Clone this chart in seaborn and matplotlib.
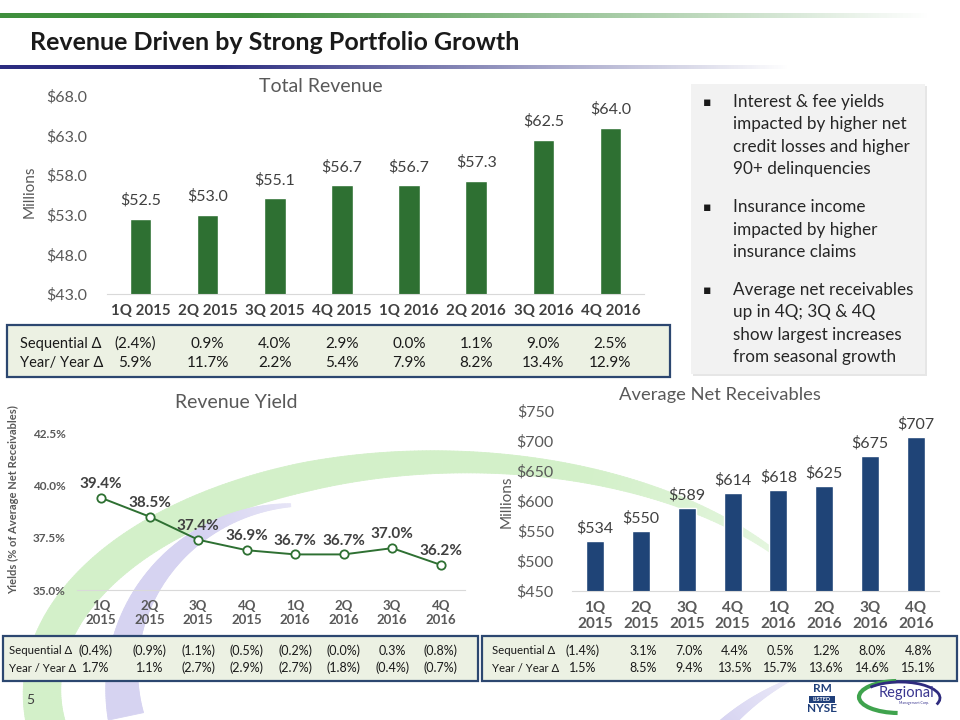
import numpy as np
import seaborn as sns
import matplotlib.pyplot as plt
import matplotlib.transforms as mtransforms
from matplotlib.colors import to_rgb
from matplotlib.patches import Rectangle, Arc
from matplotlib.collections import PolyCollection

quarters = ['1Q 2015', '2Q 2015', '3Q 2015', '4Q 2015', '1Q 2016', '2Q 2016', '3Q 2016', '4Q 2016']
revenue = [52.5, 53.0, 55.1, 56.7, 56.7, 57.3, 62.5, 64.0]
rev_seq = ['(2.4%)', '0.9%', '4.0%', '2.9%', '0.0%', '1.1%', '9.0%', '2.5%']
rev_yoy = ['5.9%', '11.7%', '2.2%', '5.4%', '7.9%', '8.2%', '13.4%', '12.9%']
yields = [39.4, 38.5, 37.4, 36.9, 36.7, 36.7, 37.0, 36.2]
yield_seq = ['(0.4%)', '(0.9%)', '(1.1%)', '(0.5%)', '(0.2%)', '(0.0%)', '0.3%', '(0.8%)']
yield_yoy = ['1.7%', '1.1%', '(2.7%)', '(2.9%)', '(2.7%)', '(1.8%)', '(0.4%)', '(0.7%)']
receivables = [534, 550, 589, 614, 618, 625, 675, 707]
rec_seq = ['(1.4%)', '3.1%', '7.0%', '4.4%', '0.5%', '1.2%', '8.0%', '4.8%']
rec_yoy = ['1.5%', '8.5%', '9.4%', '13.5%', '15.7%', '13.6%', '14.6%', '15.1%']
bullets = [
    ['Interest & fee yields', 'impacted by higher net', 'credit losses and higher', '90+ delinquencies'],
    ['Insurance income', 'impacted by higher', 'insurance claims'],
    ['Average net receivables', 'up in 4Q; 3Q & 4Q', 'show largest increases', 'from seasonal growth'],
]

GREEN = '#2e7032'
NAVY = '#1f4477'
GREY = '#595959'
DARK = '#404040'
INK = '#1a1a1a'

sns.set_style('white')
plt.rcParams['font.family'] = ['Lato', 'DejaVu Sans']

W, H = 960, 720
fig = plt.figure(figsize=(9.6, 7.2), dpi=100)


def rect(l, t, r, b):
    return [l / W, 1 - b / H, (r - l) / W, (b - t) / H]


def ftext(x, y, s, **kw):
    fig.text(x / W, 1 - y / H, s, **kw)


# background layer in pixel coordinates
bg = fig.add_axes([0, 0, 1, 1], zorder=0)
bg.axis('off')


def fade_bar(y0, y1, color, end, start):
    xs = np.linspace(0, W, 600)
    alpha = np.clip((end - xs) / (end - start), 0, 1)
    rgba = np.zeros((1, len(xs), 4))
    rgba[..., :3] = to_rgb(color)
    rgba[..., 3] = alpha
    bg.imshow(rgba, extent=(0, W, y1, y0), aspect='auto', interpolation='bilinear')


fade_bar(13, 18, '#3f8f3d', 930, 250)
fade_bar(65, 69, '#2b2c80', 790, 220)
bg.set_xlim(0, W)
bg.set_ylim(H, 0)


def band(x, y, widths, color, fade):
    # tapered ribbon along a curve, opaque colours blended into white
    dx, dy = np.gradient(x), np.gradient(y)
    n = np.hypot(dx, dy)
    nx, ny = -dy / n, dx / n
    lx, ly = x + nx * widths / 2, y + ny * widths / 2
    rx, ry = x - nx * widths / 2, y - ny * widths / 2
    rgb = np.array(to_rgb(color))
    polys, cols = [], []
    for i in range(len(x) - 1):
        polys.append([(lx[i], ly[i]), (lx[i + 1], ly[i + 1]), (rx[i + 1], ry[i + 1]), (rx[i], ry[i])])
        a = fade[i]
        cols.append(tuple(1 - a * (1 - rgb)))
    bg.add_collection(PolyCollection(polys, facecolors=cols, edgecolors=cols, linewidths=0.6))


t = np.radians(np.linspace(160, 322, 300))
f = np.linspace(0, 1, len(t))
band(450 + 408 * np.cos(t), 692 + 230 * np.sin(t), np.interp(f, [0, 0.55, 1], [40, 29, 5]),
     '#d3f0c9', np.interp(f, [0, 0.8, 1], [1, 1, 0.6]))
t = np.radians(np.linspace(168, 267, 200))
f = np.linspace(0, 1, len(t))
band(300 + 178 * np.cos(t), 680 + 175 * np.sin(t), np.interp(f, [0, 1], [36, 3]),
     '#d6d3f1', np.interp(f, [0, 0.7, 1], [1, 1, 0.6]))
s = np.linspace(0, 1, 100)
band((1 - s) ** 2 * 722 + 2 * (1 - s) * s * 752 + s ** 2 * 790,
     (1 - s) ** 2 * 728 + 2 * (1 - s) * s * 698 + s ** 2 * 680,
     np.interp(s, [0, 1], [14, 2]), '#d6d3f1', np.interp(s, [0, 1], [1, 0.5]))

# title
ftext(30, 43, 'Revenue Driven by Strong Portfolio Growth', fontsize=18,
      fontweight='bold', color=INK, va='center', ha='left')

# ---------------- Total Revenue ----------------
ax1 = fig.add_axes(rect(107, 96, 644, 294), zorder=2)
ax1.patch.set_alpha(0)
sns.barplot(x=quarters, y=revenue, color=GREEN, saturation=1, width=0.32, ax=ax1)
ax1.set_ylim(43, 68)
ax1.set_xlim(-0.5, 7.5)
ax1.set_yticks(np.arange(43, 69, 5))
ax1.set_yticklabels([f'${v:.1f}' for v in np.arange(43, 69, 5)])
ax1.bar_label(ax1.containers[0], labels=[f'${v:.1f}' for v in revenue], padding=8,
              fontsize=11.5, color=DARK)
ax1.tick_params(axis='y', length=0, pad=14, labelsize=11.5, labelcolor=GREY)
ax1.tick_params(axis='x', length=0, pad=7, labelsize=10.8, labelcolor=DARK)
for lab in ax1.get_xticklabels():
    lab.set_fontweight('bold')
ax1.set_xlabel('')
ax1.set_ylabel('')
sns.despine(ax=ax1, left=True)
ax1.spines['bottom'].set_color('#d9d9d9')
ftext(321, 87, 'Total Revenue', fontsize=14, color=GREY, ha='center', va='center')
ftext(30, 192, 'Millions', fontsize=11, color=GREY, ha='center', va='center', rotation=90)

# table under total revenue
bg.add_patch(Rectangle((7, 325), 663, 52, facecolor='#ecf1e3', edgecolor='#2c4770', lw=1.6))
bl1 = mtransforms.blended_transform_factory(ax1.transData, bg.transData)
bg.text(20, 344, 'Sequential Δ', fontsize=10.5, color=INK, va='center', ha='left')
bg.text(20, 363, 'Year/ Year Δ', fontsize=10.5, color=INK, va='center', ha='left')
for i in range(len(quarters)):
    off = -0.08 if i == 0 else 0
    bg.text(i + off, 344, rev_seq[i], transform=bl1, fontsize=11,
            color=INK, va='center', ha='center')
    bg.text(i + off, 363, rev_yoy[i], transform=bl1, fontsize=11,
            color=INK, va='center', ha='center')

# bullet box
bg.add_patch(Rectangle((693, 86), 234, 290, facecolor='#d6d6d6', edgecolor='none', alpha=0.6))
bg.add_patch(Rectangle((691, 84), 234, 290, facecolor='#f2f2f2', edgecolor='none'))
line_y = 102
for group in bullets:
    bg.text(707, line_y, '▪', fontsize=9, color=INK, va='center', ha='center',
            family=['DejaVu Sans'])
    for line in group:
        bg.text(733, line_y, line, fontsize=12.3, color='#262626', va='center', ha='left')
        line_y += 22.3
    line_y += 16

# ---------------- Revenue Yield ----------------
ax2 = fig.add_axes(rect(77, 433, 465, 590), zorder=2)
ax2.patch.set_alpha(0)
sns.lineplot(x=quarters, y=yields, sort=False, color=GREEN, lw=1.4, marker='o',
             markersize=6, markerfacecolor='white', markeredgecolor=GREEN,
             markeredgewidth=1.3, ax=ax2)
ax2.set_ylim(35, 42.5)
ax2.set_xlim(-0.5, 7.5)
ax2.set_yticks([35, 37.5, 40, 42.5])
ax2.set_yticklabels(['35.0%', '37.5%', '40.0%', '42.5%'])
ax2.set_xticks(range(len(quarters)))
ax2.set_xticklabels([q.replace(' ', '\n') for q in quarters], fontweight='bold')
ax2.tick_params(axis='y', length=0, pad=8, labelsize=8.5, labelcolor=GREY)
ax2.tick_params(axis='x', length=0, pad=7, labelsize=9.5, labelcolor=GREY)
for lab in ax2.get_yticklabels():
    lab.set_fontweight('bold')
for i, v in enumerate(yields):
    ax2.annotate(f'{v:.1f}%', (i, v), xytext=(0, 10), textcoords='offset points',
                 ha='center', va='center', fontsize=11, fontweight='bold', color=DARK)
ax2.set_xlabel('')
ax2.set_ylabel('')
sns.despine(ax=ax2, left=True)
ax2.spines['bottom'].set_color('#d9d9d9')
ftext(236, 402, 'Revenue Yield', fontsize=14, color=GREY, ha='center', va='center')
ftext(14, 500, 'Yields (% of Average Net Receivables)', fontsize=8, fontweight='bold',
      color=GREY, ha='center', va='center', rotation=90)

# ---------------- Average Net Receivables ----------------
ax3 = fig.add_axes(rect(572, 411, 939, 591), zorder=2)
ax3.patch.set_alpha(0)
sns.barplot(x=quarters, y=receivables, color=NAVY, saturation=1, width=0.39, ax=ax3)
ax3.set_ylim(450, 750)
ax3.set_xlim(-0.5, 7.5)
ax3.set_yticks(range(450, 751, 50))
ax3.set_yticklabels([f'${v}' for v in range(450, 751, 50)])
ax3.set_xticks(range(len(quarters)))
ax3.set_xticklabels([q.replace(' ', '\n') for q in quarters], fontweight='bold')
ax3.bar_label(ax3.containers[0], labels=[f'${v}' for v in receivables], padding=4,
              fontsize=11.5, color=DARK)
ax3.tick_params(axis='y', length=0, pad=13, labelsize=11.5, labelcolor=GREY)
ax3.tick_params(axis='x', length=0, pad=7, labelsize=11, labelcolor=GREY)
ax3.set_xlabel('')
ax3.set_ylabel('')
sns.despine(ax=ax3, left=True)
ax3.spines['bottom'].set_color('#d9d9d9')
ftext(720, 395, 'Average Net Receivables', fontsize=13.2, color=GREY, ha='center', va='center')
ftext(507, 502, 'Millions', fontsize=11, color=GREY, ha='center', va='center', rotation=90)

# bottom tables
bg.add_patch(Rectangle((3, 636), 475, 45, facecolor='#ecf1e3', edgecolor='#2c4770', lw=1.6))
bg.add_patch(Rectangle((482, 636), 475, 45, facecolor='#ecf1e3', edgecolor='#2c4770', lw=1.6))
bl2 = mtransforms.blended_transform_factory(ax2.transData, bg.transData)
bl3 = mtransforms.blended_transform_factory(ax3.transData, bg.transData)
for x0 in (9, 492):
    bg.text(x0, 651, 'Sequential Δ', fontsize=8.2, color=INK, va='center', ha='left')
    bg.text(x0, 668, 'Year / Year Δ', fontsize=8.2, color=INK, va='center', ha='left')
for i in range(len(quarters)):
    off = -0.12 if i == 0 else 0
    bg.text(i + off, 651, yield_seq[i], transform=bl2, fontsize=9, color=INK,
            va='center', ha='center')
    bg.text(i + off, 668, yield_yoy[i], transform=bl2, fontsize=9, color=INK,
            va='center', ha='center')
    off = -0.26 if i == 0 else 0.05
    bg.text(i + off, 651, rec_seq[i], transform=bl3, fontsize=9, color=INK,
            va='center', ha='center')
    bg.text(i + off, 668, rec_yoy[i], transform=bl3, fontsize=9, color=INK,
            va='center', ha='center')

# footer
bg.text(30, 700, '5', fontsize=10, color=DARK, va='center', ha='center')
bg.text(822, 689, 'RM', fontsize=8.5, fontweight='bold', color='#1f3f7a', va='center', ha='center')
bg.add_patch(Rectangle((809, 695.5), 26, 7.5, facecolor='#1f3f7a', edgecolor='none'))
bg.text(822, 699.5, 'LISTED', fontsize=4, fontweight='bold', color='white', va='center', ha='center')
bg.text(822, 709, 'NYSE', fontsize=8.5, fontweight='bold', color='#1f3f7a', va='center', ha='center')
bg.add_patch(Arc((899, 697), 80, 32, theta1=95, theta2=260, color='#3fa34d', lw=3.0))
bg.add_patch(Arc((900, 698), 80, 32, theta1=200, theta2=370, color='#2e2a7e', lw=2.0))
bg.text(906, 693, 'Regional', fontsize=10.5, color='#3a3690', va='center', ha='center')
bg.text(914, 703, 'Management Corp.', fontsize=2.5, color='#3a3690', va='center', ha='center')

plt.savefig('out.png', dpi=100)
plt.close()
